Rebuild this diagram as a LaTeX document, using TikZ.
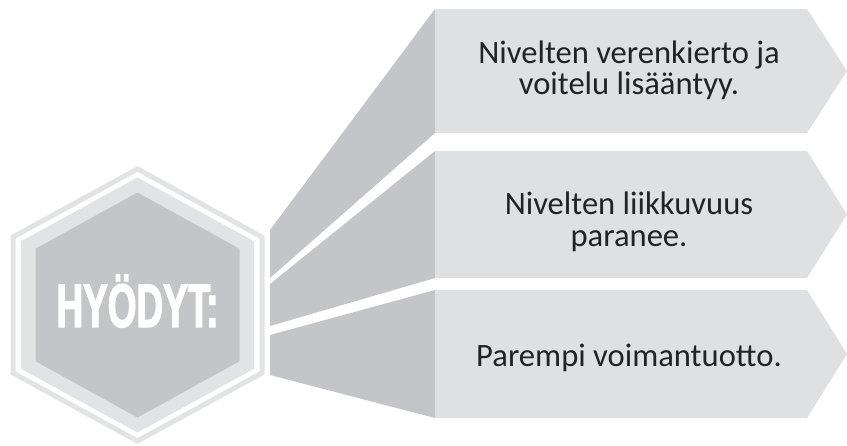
\documentclass[tikz,border=0pt]{standalone}
\usepackage{fontspec}
\setmainfont{Carlito}
\newfontfamily\headfont{Liberation Sans Bold}[FakeStretch=0.6,FakeBold=2]

\definecolor{panelgray}{HTML}{C4C5C8}
\definecolor{boxgray}{HTML}{DFE0E2}
\definecolor{ringgray}{HTML}{E2E3E5}
\definecolor{inkgray}{HTML}{222222}

\tikzset{
  % pointy-top hexagon around (hc): half width #1, half height #2
  hexpath/.style n args={2}{insert path={
    ([shift={(0,-#2)}]hc) -- ([shift={(#1,-#2/2)}]hc) -- ([shift={(#1,#2/2)}]hc)
    -- ([shift={(0,#2)}]hc) -- ([shift={(-#1,#2/2)}]hc) -- ([shift={(-#1,-#2/2)}]hc) -- cycle}},
  itemtext/.style={font=\fontsize{32.6}{31.5}\selectfont, text=inkgray,
    align=center, inner sep=0pt},
  headtext/.style={font=\headfont\fontsize{61.5}{61.5}\selectfont, text=white,
    inner sep=0pt, anchor=base}
}

\begin{document}
\begin{tikzpicture}[x=1pt,y=-1pt]
  \useasboundingbox (0,0) rectangle (847,445);

  % hexagon badge
  \coordinate (hc) at (137.5,305);
  \draw[ringgray, line width=5pt, hexpath={124.5}{136}];
  \fill[ringgray, hexpath={116.5}{127.5}];
  \fill[panelgray, hexpath={102}{112.5}];

  % roots of the three fan panels at the badge
  \coordinate (r1t) at (270,230);
  \coordinate (r1b) at (270,278);
  \coordinate (r2t) at (270,284);
  \coordinate (r2b) at (270,326);
  \coordinate (r3t) at (270,335);
  \coordinate (r3b) at (270,375);

  % left corners of the three label boxes
  \coordinate (b1t) at (435,9);
  \coordinate (b1b) at (435,133);
  \coordinate (b2t) at (435,151);
  \coordinate (b2b) at (435,278);
  \coordinate (b3t) at (435,290);
  \coordinate (b3b) at (435,418);

  % fan panels
  \fill[panelgray] (r1t) -- (b1t) -- (b1b) -- (r1b) -- cycle;
  \fill[panelgray] (r2t) -- (b2t) -- (b2b) -- (r2b) -- cycle;
  \fill[panelgray] (r3t) -- (b3t) -- (b3b) -- (r3b) -- cycle;

  % label boxes with pointed right ends
  \fill[boxgray] (b1t) -- (807,9) -- (847,71) -- (807,133) -- (b1b) -- cycle;
  \fill[boxgray] (b2t) -- (807,151) -- (847,214.5) -- (807,278) -- (b2b) -- cycle;
  \fill[boxgray] (b3t) -- (807,290) -- (847,354) -- (807,418) -- (b3b) -- cycle;

  % texts
  \node[headtext] (head) at (137.5,327) {HYÖDYT:};
  \node[itemtext] (t1) at (629,70.5) {Nivelten verenkierto ja\\voitelu lisääntyy.};
  \node[itemtext] (t2) at (629,222) {Nivelten liikkuvuus\\paranee.};
  \node[itemtext] (t3) at (629,358) {Parempi voimantuotto.};
\end{tikzpicture}
\end{document}
